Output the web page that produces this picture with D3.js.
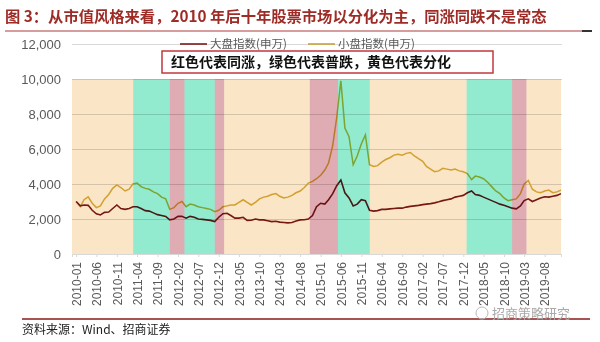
<!DOCTYPE html>
<html lang="zh">

<head>
  <meta charset="UTF-8" />
  <script src="https://d3js.org/d3.v7.min.js"></script>
  <style>
    body { margin: 0; background: #fff; }
    svg { display: block; }
    .band { mix-blend-mode: multiply; }
  </style>
</head>

<body>
  <svg id="chart" width="600" height="342"></svg>

  <script>
    // monthly points, 2010-01 .. 2019-12
    const months = d3.range(120).map(i => new Date(2010, i, 1));
    const bigCap = [
      3000, 2750, 2800, 2780, 2500, 2300, 2230, 2380, 2400, 2600, 2800, 2600,
      2550, 2600, 2700, 2700, 2600, 2480, 2450, 2350, 2250, 2200, 2150, 1950,
      2000, 2150, 2150, 2050, 2150, 2100, 2000, 1980, 1950, 1920, 1850, 2100,
      2300, 2330, 2200, 2050, 2050, 2100, 1920, 1930, 2000, 1950, 1950, 1900,
      1850, 1870, 1820, 1800, 1780, 1800, 1880, 1950, 1960, 2000, 2200, 2700,
      2900, 2850, 3100, 3450, 3900, 4230, 3500, 3200, 2750, 2850, 3100, 3050,
      2500, 2450, 2480, 2550, 2550, 2580, 2600, 2620, 2620, 2680, 2720, 2750,
      2780, 2820, 2850, 2880, 2920, 2980, 3050, 3100, 3150, 3250, 3300, 3350,
      3500, 3600, 3400, 3350, 3250, 3150, 3050, 2950, 2850, 2780, 2700, 2620,
      2580, 2750, 3050, 3150, 3000, 3100, 3200, 3270, 3250, 3300, 3350, 3450
    ];
    const smallCap = [
      3000, 2700, 3100, 3270, 2900, 2650, 2750, 3150, 3400, 3750, 3950, 3800,
      3600, 3700, 4000, 4050, 3850, 3750, 3700, 3550, 3450, 3250, 3150, 2550,
      2650, 2900, 3000, 2700, 2850, 2800, 2700, 2650, 2600, 2550, 2420, 2500,
      2700, 2750, 2800, 2800, 2950, 3100, 2950, 2800, 2950, 3150, 3250, 3300,
      3400, 3450, 3300, 3200, 3250, 3350, 3500, 3600, 3800, 4050, 4150, 4300,
      4500, 4800, 5200, 6200, 7800, 9900, 7200, 6700, 5100, 5600, 6300, 6800,
      5100, 5000, 5050, 5250, 5400, 5500, 5650, 5700, 5650, 5750, 5800, 5600,
      5450, 5300, 5000, 4850, 4700, 4750, 4900, 4850, 4800, 4850, 4750, 4700,
      4600, 4250, 4450, 4400, 4300, 4100, 3850, 3600, 3450, 3200, 3050, 3100,
      3150, 3450, 4000, 4200, 3700, 3550, 3500, 3600, 3650, 3500, 3550, 3650
    ];

    // regime periods: up = 同涨, down = 普跌, split = 分化
    const bandStart = ["2009-12-01", "2011-03-03", "2011-12-01", "2012-03-20", "2012-11-01", "2013-01-10",
      "2014-10-12", "2015-05-10", "2016-01-03", "2017-12-26", "2018-12-01", "2019-03-18"];
    const bandEnd = ["2011-03-03", "2011-12-01", "2012-03-20", "2012-11-01", "2013-01-10", "2014-10-12",
      "2015-05-10", "2016-01-03", "2017-12-26", "2018-12-01", "2019-03-18", "2019-12-01"];
    const bandType = ["split", "down", "up", "down", "up", "split",
      "up", "down", "split", "down", "up", "split"];

    const yTicks = [0, 2000, 4000, 6000, 8000, 10000, 12000];
    const xTicks = d3.range(0, 116, 5).map(i => new Date(2010, i, 1));
    const seriesNames = ["大盘指数(申万)", "小盘指数(申万)"];

    const svg = d3.select("#chart");
    const margin = { top: 44, left: 72, right: 39, bottom: 88 };
    const x = d3.scaleTime()
      .domain([new Date(2009, 11, 1), new Date(2019, 11, 1)])
      .range([margin.left, 600 - margin.right]);
    const y = d3.scaleLinear().domain([0, 12000]).range([254, margin.top]);
    const bandColor = d3.scaleOrdinal()
      .domain(["split", "down", "up"])
      .range(["#fae6c6", "#92ebcf", "#deacb2"]);

    // title
    svg.append("text")
      .attr("x", 5).attr("y", 22)
      .attr("font-family", "'Noto Sans CJK SC', sans-serif")
      .attr("font-size", "15.3px").attr("font-weight", "bold")
      .attr("fill", "#9e2b26")
      .text("图 3：从市值风格来看，2010 年后十年股票市场以分化为主，同涨同跌不是常态");
    svg.append("line")
      .attr("x1", 5).attr("x2", 582).attr("y1", 31).attr("y2", 31)
      .attr("stroke", "#b03a3a").attr("stroke-width", 1.2);
    svg.append("line")
      .attr("x1", 582).attr("x2", 592).attr("y1", 31).attr("y2", 31)
      .attr("stroke", "#333").attr("stroke-width", 2);

    // gridlines
    svg.append("g")
      .attr("class", "gridlines")
      .attr("transform", `translate(${margin.left},0)`)
      .call(d3.axisLeft(y).tickValues(yTicks).tickSize(-(600 - margin.right - margin.left + 1)).tickFormat(""))
      .call(g => g.select(".domain").remove())
      .call(g => g.selectAll("line").attr("stroke", "#d9d9d9"));

    // y labels
    svg.append("g")
      .attr("transform", `translate(${margin.left},0)`)
      .call(d3.axisLeft(y).tickValues(yTicks).tickSize(0).tickPadding(11).tickFormat(d3.format(",")))
      .call(g => g.select(".domain").remove())
      .call(g => g.selectAll("text")
        .attr("font-family", "'Liberation Sans', Arial, sans-serif")
        .attr("font-size", "13px").attr("fill", "#595959"));

    // lines
    const line = d3.line().x((d, i) => x(months[i])).y(d => y(d));
    svg.append("path").datum(smallCap)
      .attr("d", line).attr("fill", "none")
      .attr("stroke", "#d6b23c").attr("stroke-width", 1.5);
    svg.append("path").datum(bigCap)
      .attr("d", line).attr("fill", "none")
      .attr("stroke", "#7a1a1a").attr("stroke-width", 1.6);

    // regime bands laid over the lines
    svg.append("g").selectAll("rect").data(bandType)
      .join("rect")
      .attr("class", "band")
      .attr("x", (d, i) => x(new Date(bandStart[i])))
      .attr("width", (d, i) => x(new Date(bandEnd[i])) - x(new Date(bandStart[i])))
      .attr("y", y(10000))
      .attr("height", y(0) - y(10000))
      .attr("fill", d => bandColor(d));

    // x axis
    const xAxis = svg.append("g")
      .attr("transform", `translate(0,${y(0)})`)
      .call(d3.axisBottom(x).tickValues(xTicks).tickSize(3).tickFormat(d3.timeFormat("%Y-%m")));
    xAxis.select(".domain").attr("stroke", "#d9d9d9");
    xAxis.selectAll("line").attr("stroke", "#d9d9d9");
    xAxis.selectAll("text")
      .attr("font-family", "'Liberation Sans', Arial, sans-serif")
      .attr("font-size", "12px").attr("fill", "#595959")
      .attr("text-anchor", "end")
      .attr("transform", "rotate(-90)")
      .attr("x", -8).attr("y", 0).attr("dy", "0.35em");

    // legend
    const legendX = [180, 308];
    const legendColor = ["#7a1a1a", "#c9a336"];
    seriesNames.forEach((name, i) => {
      svg.append("line")
        .attr("x1", legendX[i]).attr("x2", legendX[i] + 27)
        .attr("y1", 44).attr("y2", 44)
        .attr("stroke", legendColor[i]).attr("stroke-width", 1.6);
      svg.append("text")
        .attr("x", legendX[i] + 30).attr("y", 48)
        .attr("font-family", "'Noto Sans CJK SC', sans-serif")
        .attr("font-size", "11.5px").attr("fill", "#595959")
        .text(name);
    });

    // annotation box
    svg.append("rect")
      .attr("x", 162).attr("y", 51).attr("width", 331).attr("height", 22)
      .attr("fill", "#fff").attr("stroke", "#c0393e").attr("stroke-width", 1.5);
    svg.append("text")
      .attr("x", 171).attr("y", 67)
      .attr("font-family", "'Noto Sans CJK SC', sans-serif")
      .attr("font-size", "14px").attr("font-weight", "bold").attr("fill", "#111")
      .text("红色代表同涨，绿色代表普跌，黄色代表分化");

    // footer
    svg.append("line")
      .attr("x1", 22).attr("x2", 590).attr("y1", 319).attr("y2", 319)
      .attr("stroke", "#8b1a1a").attr("stroke-width", 1.5);
    svg.append("text")
      .attr("x", 22).attr("y", 334)
      .attr("font-family", "'Noto Sans CJK SC', sans-serif")
      .attr("font-size", "12px").attr("fill", "#222")
      .text("资料来源：Wind、招商证券");
    svg.append("circle")
      .attr("cx", 482).attr("cy", 313).attr("r", 6)
      .attr("fill", "none").attr("stroke", "#bbb").attr("stroke-width", 1);
    svg.append("text")
      .attr("x", 492).attr("y", 318)
      .attr("font-family", "'Noto Sans CJK SC', sans-serif")
      .attr("font-size", "13px").attr("fill", "#aaa")
      .text("招商策略研究");
  </script>
</body>

</html>
